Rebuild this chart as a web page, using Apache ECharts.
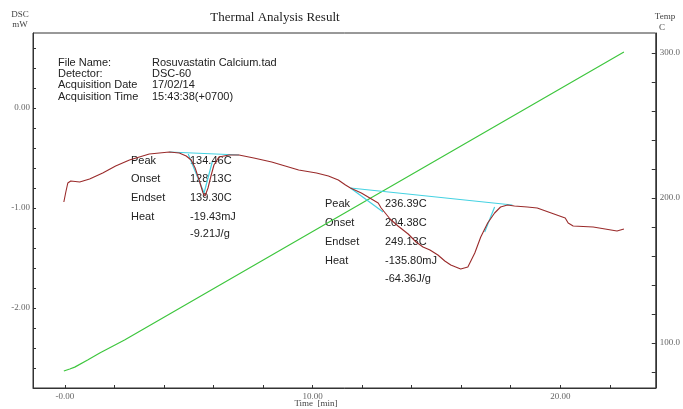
<!DOCTYPE html>
<html><head><meta charset="utf-8">
<script src="https://cdn.jsdelivr.net/npm/echarts@6/dist/echarts.min.js"></script>
<style>html,body{margin:0;padding:0;background:#fff}#c{width:683px;height:409px}</style>
</head><body><div id="c"></div>
<script>
// DSC curve (time [min], mW)
const dscTime = [-0.04,0.04,0.12,0.24,0.60,1.00,1.53,2.05,2.61,3.41,4.22,4.62,4.90,5.10,5.26,5.42,5.58,5.66,5.78,5.90,6.02,6.22,6.63,7.03,7.63,8.35,9.44,10.16,10.64,11.04,11.33,11.53,11.97,12.65,12.77,13.13,13.45,13.86,14.18,14.46,14.74,15.06,15.34,15.58,15.98,16.27,16.55,16.79,17.07,17.35,17.59,17.87,18.15,18.67,19.07,20.20,20.32,20.52,21.33,22.29,22.57];
const dscValue = [-0.94,-0.84,-0.75,-0.73,-0.74,-0.71,-0.65,-0.58,-0.52,-0.46,-0.44,-0.45,-0.48,-0.52,-0.60,-0.72,-0.85,-0.88,-0.80,-0.68,-0.57,-0.49,-0.47,-0.47,-0.50,-0.54,-0.62,-0.65,-0.68,-0.72,-0.77,-0.80,-0.85,-0.95,-1.00,-1.11,-1.18,-1.26,-1.34,-1.39,-1.42,-1.47,-1.53,-1.57,-1.61,-1.59,-1.45,-1.29,-1.15,-1.05,-0.99,-0.97,-0.98,-0.99,-1.00,-1.10,-1.15,-1.18,-1.19,-1.23,-1.21];
// Temperature curve (time [min], C)
const tempTime = [-0.04,0.20,0.40,0.92,1.41,2.41,22.57];
const tempValue = [80.7,82.1,83.4,88.3,93.1,102.1,300.7];
// Analysis lines (baseline and tangents)
const peak1Base = {t:[4.22,7.03], v:[-0.44,-0.47]};
const peak1Tan = {t:[4.98,5.62,5.95], v:[-0.46,-0.85,-0.54]};
const peak2Base = {t:[11.53,18.07], v:[-0.80,-0.97]};
const peak2Left = {t:[11.53,12.85], v:[-0.80,-1.04]};
const peak2Right = {t:[16.95,17.35], v:[-1.24,-0.99]};
// Tick values
const xLabels = [0,10,20];
const xTicks = [0,2,4,6,8,10,12,14,16,18,20,22];
const yLabels = [0,-1,-2];
const yTicks = [0.6,0.4,0.2,0,-0.2,-0.4,-0.6,-0.8,-1,-1.2,-1.4,-1.6,-1.8,-2,-2.2,-2.4,-2.6];
const tLabels = [100,200,300];
const tTicks = [80,100,120,140,160,180,200,220,240,260,280,300];
// Text
const infoKeys = ["File Name:","Detector:","Acquisition Date","Acquisition Time"];
const infoVals = ["Rosuvastatin Calcium.tad","DSC-60","17/02/14","15:43:38(+0700)"];
const res1Keys = ["Peak","Onset","Endset","Heat",""];
const res1Vals = ["134.46C","128.13C","139.30C","-19.43mJ","-9.21J/g"];
const res2Keys = ["Peak","Onset","Endset","Heat",""];
const res2Vals = ["236.39C","204.38C","249.13C","-135.80mJ","-64.36J/g"];

const zip = (a,b) => a.map((x,i)=>[x,b[i]]);
const serif = 'Liberation Serif, Times New Roman, serif';
const sans = 'Liberation Sans, Arial, sans-serif';
const axisCol = '#333';
const lblCol = '#666';

const texts = [];
function addText(x,y,s,opt){ texts.push({type:'text',x:x,y:y,style:Object.assign({text:s,fill:'#222',font:'11px '+sans,textVerticalAlign:'middle'},opt||{})}); }
addText(275,18,'Thermal Analysis Result',{font:'13px '+serif,textAlign:'center',fill:'#222'});
addText(20,15,'DSC',{font:'9px '+serif,textAlign:'center',fill:'#444'});
addText(20,25,'mW',{font:'9px '+serif,textAlign:'center',fill:'#444'});
addText(665,17,'Temp',{font:'9px '+serif,textAlign:'center',fill:'#444'});
addText(662,28,'C',{font:'9px '+serif,textAlign:'center',fill:'#444'});
addText(316,404,'Time  [min]',{font:'9px '+serif,textAlign:'center',fill:'#444'});
infoKeys.forEach((k,i)=>{ addText(58,63+i*11.2,k); addText(152,63+i*11.2,infoVals[i]); });
res1Keys.forEach((k,i)=>{ const y=[161,179,198,217,234][i]; if(k) addText(131,y,k); addText(190,y,res1Vals[i]); });
res2Keys.forEach((k,i)=>{ const y=[204,223,242,261,279][i]; if(k) addText(325,y,k); addText(385,y,res2Vals[i]); });

const chart = echarts.init(document.getElementById('c'), null, {renderer:'canvas'});
const lineS = (data,color,w,yi) => ({type:'line',data:data,yAxisIndex:yi||0,showSymbol:false,symbol:'none',lineStyle:{color:color,width:w},silent:true,animation:false,z:yi?2:3});
chart.setOption({
  animation:false,
  backgroundColor:'#fff',
  grid:{left:33,right:24,top:33,bottom:21,show:true,borderColor:axisCol,borderWidth:1,backgroundColor:'transparent'},
  xAxis:{type:'value',min:-1.285,max:23.855,
    axisLine:{onZero:false,lineStyle:{color:axisCol}},
    axisTick:{inside:true,length:3,customValues:xTicks,lineStyle:{color:axisCol}},
    axisLabel:{customValues:xLabels,formatter:v=>v===0?'-0.00':v.toFixed(2),font:'9px',fontFamily:serif,fontSize:9,color:lblCol,margin:4},
    splitLine:{show:false}},
  yAxis:[
    {type:'value',min:-2.80,max:0.75,position:'left',
     axisLine:{show:true,onZero:false,lineStyle:{color:axisCol}},
     axisTick:{show:true,inside:true,length:3,customValues:yTicks,lineStyle:{color:axisCol}},
     axisLabel:{customValues:yLabels,formatter:v=>v.toFixed(2),fontFamily:serif,fontSize:9,color:lblCol,margin:3},
     splitLine:{show:false}},
    {type:'value',min:69.0,max:313.8,position:'right',
     axisLine:{show:true,onZero:false,lineStyle:{color:axisCol}},
     axisTick:{show:true,inside:true,length:4,customValues:tTicks,lineStyle:{color:axisCol}},
     axisLabel:{customValues:tLabels,formatter:v=>v.toFixed(1),fontFamily:serif,fontSize:9,color:lblCol,margin:4},
     splitLine:{show:false}}
  ],
  series:[
    lineS(zip(tempTime,tempValue),'#3ec63e',1.2,1),
    lineS(zip(peak1Base.t,peak1Base.v),'#45d2e2',1.2),
    lineS(zip(peak1Tan.t,peak1Tan.v),'#45d2e2',1.2),
    lineS(zip(peak2Base.t,peak2Base.v),'#45d2e2',1.2),
    lineS(zip(peak2Left.t,peak2Left.v),'#45d2e2',1.2),
    lineS(zip(peak2Right.t,peak2Right.v),'#45d2e2',1.2),
    lineS(zip(dscTime,dscValue),'#9a2b2b',1.1)
  ],
  graphic:texts
});
</script></body></html>
